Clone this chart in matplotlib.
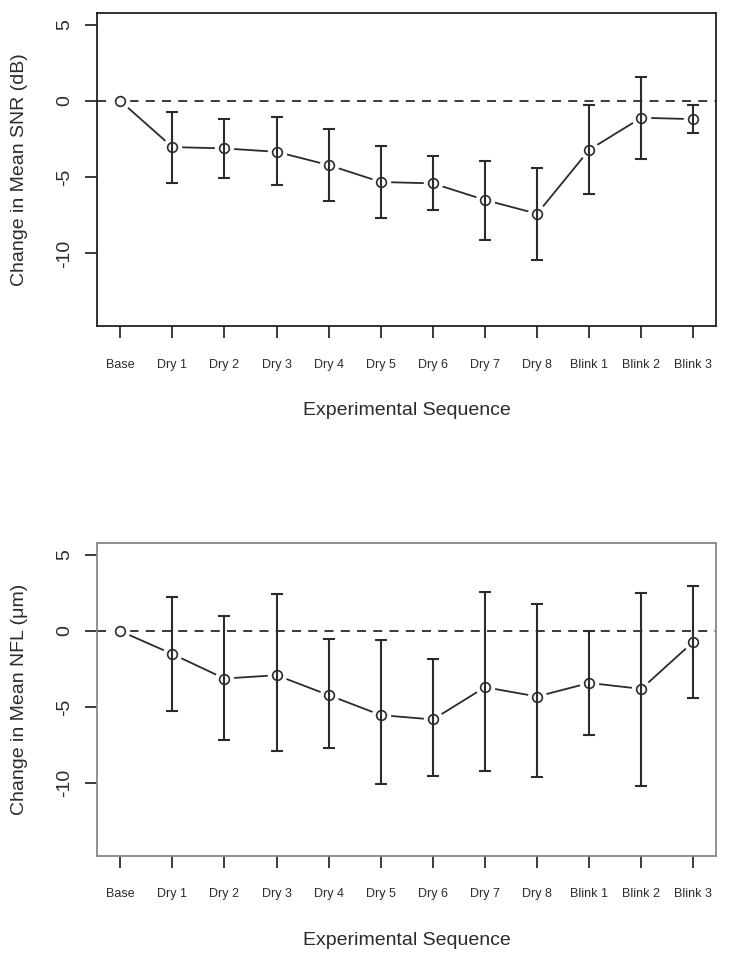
import numpy as np
import matplotlib
matplotlib.use("Agg")
from matplotlib import pyplot as plt

plt.rcParams['font.family'] = ['Liberation Sans', 'DejaVu Sans']
plt.rcParams['axes.unicode_minus'] = False

labels = ['Base', 'Dry 1', 'Dry 2', 'Dry 3', 'Dry 4', 'Dry 5', 'Dry 6', 'Dry 7', 'Dry 8',
          'Blink 1', 'Blink 2', 'Blink 3']

# change in mean SNR (dB), with lower / upper ends of the error bars
snr = [0, -3.03, -3.12, -3.34, -4.21, -5.32, -5.41, -6.50, -7.40, -3.21, -1.11, -1.20]
snr_lo = [0, -5.37, -5.04, -5.54, -6.55, -7.66, -7.16, -9.10, -10.41, -6.13, -3.80, -2.14]
snr_hi = [0, -0.70, -1.20, -1.09, -1.85, -2.97, -3.64, -3.93, -4.41, -0.30, 1.55, -0.30]

# change in mean NFL (um)
nfl = [0, -1.51, -3.12, -2.90, -4.21, -5.52, -5.81, -3.69, -4.30, -3.41, -3.80, -0.70]
nfl_lo = [0, -5.26, -7.18, -7.86, -7.66, -10.08, -9.52, -9.17, -9.56, -6.86, -10.15, -4.39]
nfl_hi = [0, 2.25, 0.98, 2.44, -0.52, -0.61, -1.83, 2.58, 1.77, 0.00, 2.53, 2.97]

ink = '#2b2b2b'


def panel(ax, y, lo, hi, ylab, spine_col):
    x = np.arange(1, len(y) + 1)
    y = np.array(y)
    lo = np.array(lo)
    hi = np.array(hi)
    ax.axhline(0, color=ink, lw=1.3, ls=(0, (5, 4)), zorder=1)
    ax.plot(x, y, color=ink, lw=1.3, zorder=2)
    # white blobs to get the gap around points (like R type="b")
    ax.plot(x, y, 'o', ms=14, mfc='white', mec='none', zorder=3)
    ax.errorbar(x[1:], y[1:], yerr=[y[1:] - lo[1:], hi[1:] - y[1:]], fmt='none',
                ecolor=ink, elinewidth=1.5, capsize=4.5, capthick=1.5, zorder=4)
    ax.plot(x, y, 'o', ms=7, mfc='none', mec=ink, mew=1.2, zorder=5)
    ax.set_xlim(0.56, 12.44)
    ax.set_ylim(-14.76, 5.76)
    ax.set_xticks(x)
    ax.set_xticklabels(labels, fontsize=9, color=ink)
    ax.set_yticks([5, 0, -5, -10])
    ax.set_yticklabels(['5', '0', '-5', '-10'], fontsize=14, color=ink,
                       rotation=90, va='center')
    ax.tick_params(axis='both', length=8.5, width=1.3, color=ink, direction='out')
    ax.tick_params(axis='x', pad=15)
    ax.tick_params(axis='y', pad=9)
    for s in ax.spines.values():
        s.set_color(spine_col)
        s.set_linewidth(1.3)
    ax.set_ylabel(ylab, fontsize=14, color=ink)
    ax.yaxis.set_label_coords(-0.112, 0.5)
    ax.set_xlabel('Experimental Sequence', fontsize=14, color=ink)
    ax.xaxis.set_label_coords(0.5, -0.243)


fig = plt.figure(figsize=(7.35, 9.6), dpi=100)
ax1 = fig.add_axes([0.1324, 0.6604, 0.8422, 0.3261])
ax2 = fig.add_axes([0.1324, 0.1086, 0.8422, 0.3254])

panel(ax1, snr, snr_lo, snr_hi, 'Change in Mean SNR (dB)', '#222222')
panel(ax2, nfl, nfl_lo, nfl_hi, 'Change in Mean NFL (\u03bcm)', '#888888')

fig.savefig('out.png', dpi=100)
